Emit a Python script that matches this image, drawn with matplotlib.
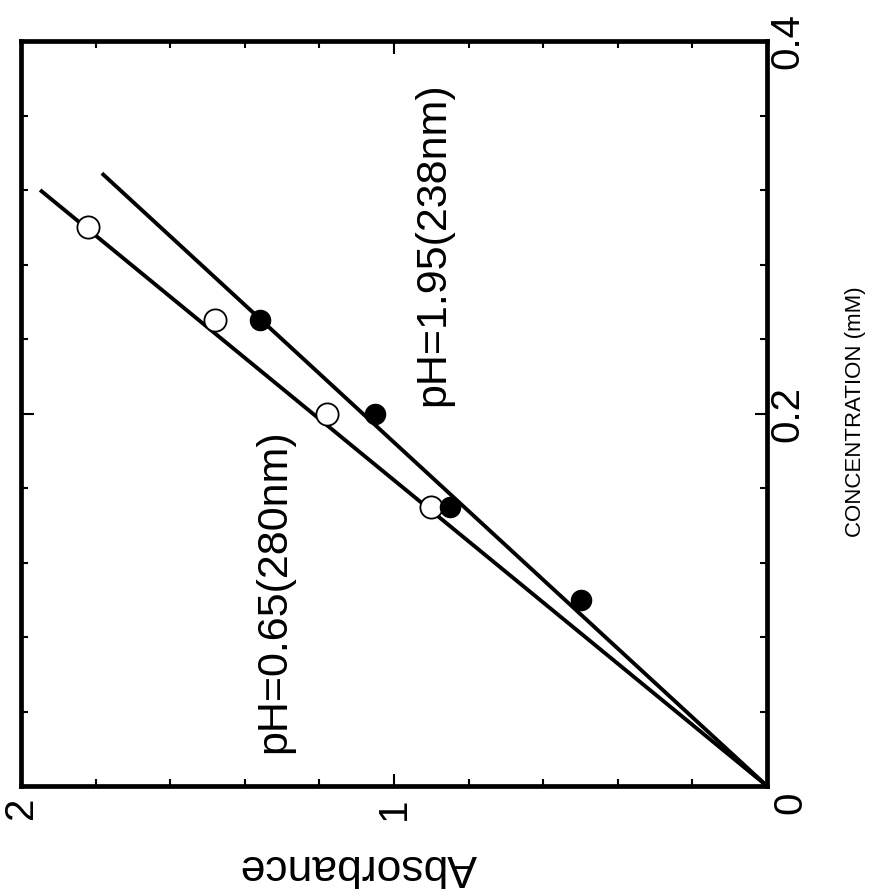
import matplotlib
matplotlib.use("Agg")
import matplotlib.pyplot as plt
from matplotlib import font_manager
from matplotlib.ticker import MultipleLocator
import numpy as np

# Measured absorbance vs. concentration
conc_ph065 = [0.15, 0.20, 0.25, 0.30]          # mM, open circles (280 nm)
abs_ph065 = [0.90, 1.18, 1.48, 1.82]
conc_ph195 = [0.10, 0.15, 0.20, 0.25]          # mM, filled circles (238 nm)
abs_ph195 = [0.50, 0.85, 1.05, 1.36]

# Straight-line fits through the origin (absorbance per mM) and their extent
fit_slopes = [6.09, 5.42]
fit_end_conc = [0.320, 0.329]

series_labels = ["pH=0.65(280nm)", "pH=1.95(238nm)"]
abs_ticks = [0, 1, 2]
abs_ticklabels = ["", "1", "2"]
conc_ticks = [0.0, 0.2, 0.4]
conc_ticklabels = ["", "0.2", "0.4"]

installed = {f.name for f in font_manager.fontManager.ttflist}
main_font = "Liberation Sans" if "Liberation Sans" in installed else "DejaVu Sans"
narrow_font = next((n for n in ["Liberation Sans Narrow", "DejaVu Sans Condensed"]
                    if n in installed), None)
plt.rcParams["font.family"] = [main_font, "DejaVu Sans"]

fig = plt.figure(figsize=(8.77, 8.93), dpi=100)
ax = fig.add_axes([21 / 877, 107 / 893, 746 / 877, 745 / 893])

# Absorbance runs right-to-left along the horizontal axis, concentration upward
ax.set_xlim(2, 0)
ax.set_ylim(0, 0.4)

for slope, cend in zip(fit_slopes, fit_end_conc):
    c = np.array([0.0, cend])
    ax.plot(slope * c, c, color="black", lw=2.8, solid_capstyle="butt", zorder=2)

ax.plot(abs_ph065, conc_ph065, linestyle="none", marker="o", ms=16,
        mfc="white", mec="black", mew=1.3, zorder=3)
ax.plot(abs_ph195, conc_ph195, linestyle="none", marker="o", ms=14.5,
        mfc="black", mec="black", mew=1.0, zorder=3)

# Series annotations, written along the lines
ax.text(1.292, 0.0177, series_labels[0], rotation=90, rotation_mode="anchor",
        ha="left", va="baseline", fontsize=31)
ax.text(0.866, 0.204, series_labels[1], rotation=90, rotation_mode="anchor",
        ha="left", va="baseline", fontsize=31)

for side in ax.spines.values():
    side.set_linewidth(3.4)

ax.set_xticks(abs_ticks)
ax.set_xticklabels(abs_ticklabels, rotation=90, fontsize=29)
ax.xaxis.set_minor_locator(MultipleLocator(0.2))
ax.set_yticks(conc_ticks)
ax.set_yticklabels(conc_ticklabels, rotation=90, fontsize=29, va="center")
ax.yaxis.set_minor_locator(MultipleLocator(0.04))

ax.tick_params(which="both", direction="in", top=True, bottom=True,
               left=True, right=True, labelleft=False, labelright=True,
               labelbottom=True, labeltop=False, width=1.5)
ax.tick_params(which="major", length=9)
ax.tick_params(which="minor", length=5)
ax.tick_params(axis="x", which="major", pad=8)
ax.tick_params(axis="y", which="major", pad=1)

# Shared origin label
ax.annotate("0", xy=(0, 0), xycoords="data", xytext=(16.5, -12),
            textcoords="offset points", rotation=90, ha="center", va="center",
            fontsize=29, annotation_clip=False)

ax.set_xlabel("Absorbance", fontsize=32, rotation=180, ha="center", va="center")
ax.xaxis.set_label_coords(0.4517, -0.1074)

ax.yaxis.set_label_position("right")
if narrow_font:
    ax.set_ylabel("CONCENTRATION (mM)", fontsize=19, rotation=90,
                  family=narrow_font, ha="center", va="center")
else:
    ax.set_ylabel("CONCENTRATION (mM)", fontsize=16, rotation=90,
                  ha="center", va="center")
ax.yaxis.set_label_coords(1.118, 0.502)

fig.savefig("out.png", dpi=100)
